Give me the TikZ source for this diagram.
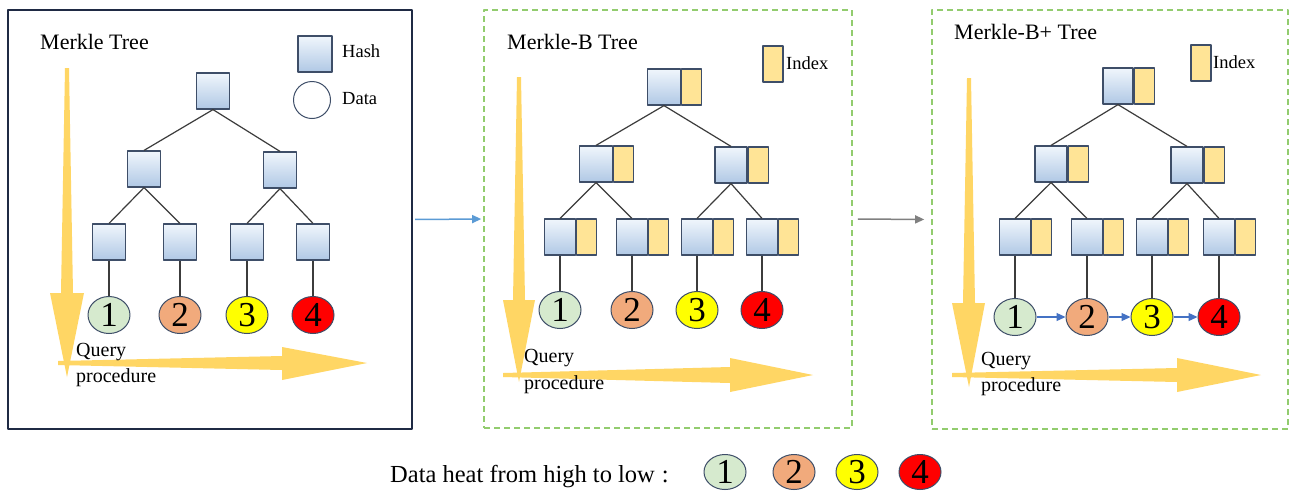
\documentclass[tikz,border=0pt]{standalone}
\usepackage{fontspec}
\setmainfont{Liberation Serif}
\usetikzlibrary{positioning,shapes.geometric,arrows.meta}

\definecolor{marco}{RGB}{31,42,68}
\definecolor{verdeborde}{RGB}{146,204,110}
\definecolor{hashsup}{RGB}{240,246,252}
\definecolor{hashinf}{RGB}{176,200,229}
\definecolor{bordecaja}{RGB}{62,78,104}
\definecolor{amarilloidx}{RGB}{255,228,150}
\definecolor{flecha}{RGB}{255,214,100}
\definecolor{dato1}{RGB}{214,234,206}
\definecolor{dato2}{RGB}{241,170,124}
\definecolor{dato3}{RGB}{255,255,0}
\definecolor{dato4}{RGB}{255,0,0}
\definecolor{enlace}{RGB}{68,114,196}
\definecolor{azulflecha}{RGB}{91,155,213}
\definecolor{arista}{RGB}{60,60,60}

\begin{document}
\begin{tikzpicture}[x=1pt, y=-1pt, line join=round,
    hash/.style={draw=bordecaja, line width=1.2pt, top color=hashsup, bottom color=hashinf, minimum width=33pt, minimum height=36pt, inner sep=0pt},
    idx/.style={draw=bordecaja, line width=1.2pt, fill=amarilloidx, minimum width=20pt, minimum height=36pt, inner sep=0pt},
    dato/.style={ellipse, draw=bordecaja, line width=1pt, minimum width=42pt, minimum height=37pt, inner sep=0pt, font=\fontsize{35}{35}\selectfont},
    rama/.style={draw=arista, line width=1.2pt},
    titulo/.style={anchor=west, inner sep=0pt, font=\fontsize{22}{26}\selectfont},
    leyenda/.style={anchor=west, inner sep=0pt, font=\fontsize{18.5}{22}\selectfont},
    consulta/.style={anchor=west, inner sep=0pt, font=\fontsize{20}{24}\selectfont},
    enlacedato/.style={draw=enlace, line width=1.3pt, -{Triangle[length=9pt,width=8pt]}}]

	\useasboundingbox (0,0) rectangle (1295,491);
	\fill[white] (0,0) rectangle (1295,491);

	% Marcos de los tres paneles
	\node[draw=marco, line width=2pt, minimum width=404pt, minimum height=419pt, inner sep=0pt] (p1) at (210,219.5) {};
	\node[draw=verdeborde, line width=1.6pt, dash pattern=on 6pt off 4pt, minimum width=368pt, minimum height=418pt, inner sep=0pt] (p2) at (668,219) {};
	\node[draw=verdeborde, line width=1.6pt, dash pattern=on 6pt off 4pt, minimum width=356pt, minimum height=419pt, inner sep=0pt] (p3) at (1110,219.5) {};

	\draw[azulflecha, line width=1.5pt, -{Triangle[length=9pt,width=8pt]}, shorten <=2pt, shorten >=2pt] (p1.east) -- (p2.west);
	\draw[gray, line width=1.5pt, -{Triangle[length=9pt,width=8pt]}, shorten <=5pt, shorten >=7pt] (p2.east) -- (p3.west);

	% Flechas amarillas de consulta
	\fill[flecha] (65,68) -- (69,68) -- (73,293) -- (84,293) -- (67,377) -- (50,293) -- (61,293) -- cycle;
	\fill[flecha] (58,361) -- (282,356) -- (282,347) -- (367,363) -- (282,380) -- (282,370) -- (58,365) -- cycle;
	\fill[flecha] (517,77) -- (521,77) -- (525,300) -- (535,300) -- (519,382) -- (503,300) -- (513,300) -- cycle;
	\fill[flecha] (503,373) -- (730,367) -- (730,358) -- (813,375) -- (730,392) -- (730,383) -- (503,377) -- cycle;
	\fill[flecha] (967,78) -- (971,78) -- (975,303) -- (985,303) -- (969,387) -- (952,303) -- (963,303) -- cycle;
	\fill[flecha] (952,373) -- (1177,368) -- (1177,358) -- (1261,375) -- (1177,392) -- (1177,382) -- (952,377) -- cycle;

	% Panel 1: Merkle Tree
	\node[titulo] (t1) at (40,42) {Merkle Tree};
	\node[hash, minimum width=34pt] (lhash) at (315,54) {};
	\node[leyenda] (thash) at (342,51) {Hash};
	\node[circle, draw=bordecaja, line width=1pt, minimum size=37pt, inner sep=0pt] (ldato) at (312,100) {};
	\node[leyenda] (tdato) at (342,99) {Data};

	\node[hash] (h1r) at (213,91) {};
	\node[hash] (h1a) at (144,169) {};
	\node[hash] (h1b) at (280,170) {};
	\draw[rama] (h1r.south) -- (h1a.north);
	\draw[rama] (h1r.south) -- (h1b.north);
	\foreach \i/\x in {1/109,2/180,3/247,4/313} {
		\node[hash] (h1c\i) at (\x,242) {};
		\node[dato, fill=dato\i] (d1\i) at (\x,315) {\i};
		\draw[rama] (h1c\i) -- (d1\i);
	}
	\draw[rama] (h1a.south) -- (h1c1.north);
	\draw[rama] (h1a.south) -- (h1c2.north);
	\draw[rama] (h1b.south) -- (h1c3.north);
	\draw[rama] (h1b.south) -- (h1c4.north);

	\node[consulta] (q1) at (76,352) {Query};
	\node[consulta] (r1) at (76,378) {procedure};

	% Panel 2: Merkle-B Tree
	\node[titulo] (t2) at (507,42) {Merkle-B Tree};
	\node[idx] (lidx2) at (773,64) {};
	\node[leyenda] (tidx2) at (786,63) {Index};

	\node[hash, minimum width=33pt] (h2r) at (664,87) {};
	\node[idx, right=0pt of h2r] (i2r) {};
	\node[hash, minimum width=33pt] (h2a) at (596,164) {};
	\node[idx, right=0pt of h2a] (i2a) {};
	\node[hash, minimum width=32pt] (h2b) at (731,165) {};
	\node[idx, right=0pt of h2b] (i2b) {};
	\draw[rama] (h2r.south) -- (h2a.north);
	\draw[rama] (h2r.south) -- (h2b.north);
	\foreach \i/\x in {1/560,2/632,3/697,4/762} {
		\node[hash, minimum width=31pt] (h2c\i) at (\x,237) {};
		\node[idx, right=0pt of h2c\i] (i2c\i) {};
		\node[dato, fill=dato\i] (d2\i) at (\x,310) {\i};
		\draw[rama] (h2c\i) -- (d2\i);
	}
	\draw[rama] (h2a.south) -- (h2c1.north);
	\draw[rama] (h2a.south) -- (h2c2.north);
	\draw[rama] (h2b.south) -- (h2c3.north);
	\draw[rama] (h2b.south) -- (h2c4.north);

	\node[consulta] (q2) at (524,358) {Query};
	\node[consulta] (r2) at (524,385) {procedure};

	% Panel 3: Merkle-B+ Tree
	\node[titulo] (t3) at (954,32) {Merkle-B+ Tree};
	\node[idx] (lidx3) at (1201,63) {};
	\node[leyenda] (tidx3) at (1213,62) {Index};

	\node[hash, minimum width=30pt] (h3r) at (1118,86) {};
	\node[idx, right=0pt of h3r] (i3r) {};
	\node[hash, minimum width=32pt] (h3a) at (1051,164) {};
	\node[idx, right=0pt of h3a] (i3a) {};
	\node[hash, minimum width=32pt] (h3b) at (1187,165) {};
	\node[idx, right=0pt of h3b] (i3b) {};
	\draw[rama] (h3r.south) -- (h3a.north);
	\draw[rama] (h3r.south) -- (h3b.north);
	\foreach \i/\x in {1/1015,2/1087,3/1152,4/1219} {
		\node[hash, minimum width=31pt] (h3c\i) at (\x,237) {};
		\node[idx, right=0pt of h3c\i] (i3c\i) {};
		\node[dato, fill=dato\i] (d3\i) at (\x,317) {\i};
		\draw[rama] (h3c\i) -- (d3\i);
	}
	\draw[rama] (h3a.south) -- (h3c1.north);
	\draw[rama] (h3a.south) -- (h3c2.north);
	\draw[rama] (h3b.south) -- (h3c3.north);
	\draw[rama] (h3b.south) -- (h3c4.north);
	\draw[enlacedato] (d31) -- (d32);
	\draw[enlacedato] (d32) -- (d33);
	\draw[enlacedato] (d33) -- (d34);

	\node[consulta] (q3) at (981,361) {Query};
	\node[consulta] (r3) at (981,387) {procedure};

	% Leyenda inferior
	\node[anchor=base west, inner sep=0pt, font=\fontsize{24.5}{28}\selectfont] (calor) at (390,482) {Data heat from high to low\hspace{7pt}:};
	\foreach \i/\x in {1/725,2/794,3/857,4/920}
		\node[dato, fill=dato\i, minimum height=35pt] (c\i) at (\x,472) {\i};

\end{tikzpicture}
\end{document}
